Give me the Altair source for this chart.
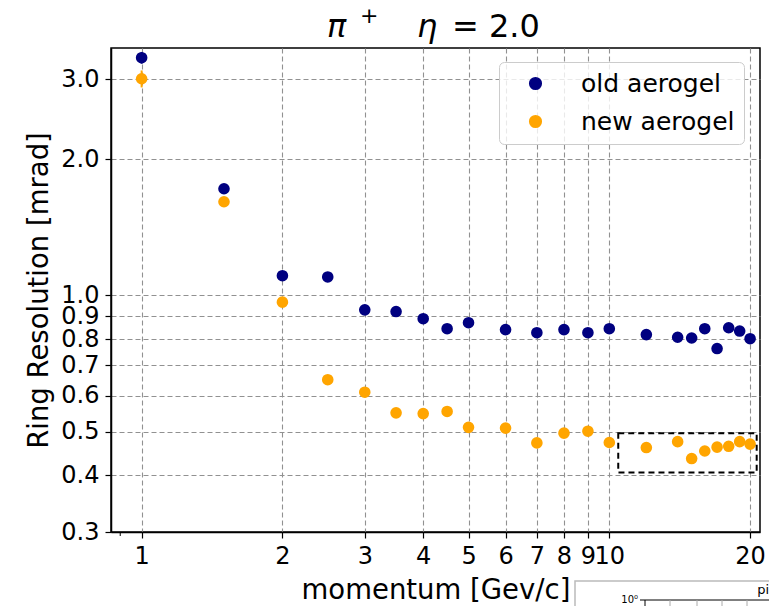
import altair as alt
import pandas as pd

# ---------------- data ----------------
momentum = [1, 1.5, 2, 2.5, 3, 3.5, 4, 4.5, 5, 6, 7, 8, 9, 10,
            12, 14, 15, 16, 17, 18, 19, 20]
old_res = [3.35, 1.72, 1.105, 1.098, 0.929, 0.921, 0.888, 0.844, 0.870,
           0.840, 0.827, 0.840, 0.827, 0.844, 0.819, 0.808, 0.805, 0.844,
           0.763, 0.848, 0.834, 0.802]
new_res = [3.01, 1.61, 0.966, 0.651, 0.611, 0.550, 0.548, 0.554, 0.511,
           0.509, 0.472, 0.496, 0.501, 0.473, 0.461, 0.475, 0.436, 0.453,
           0.462, 0.464, 0.475, 0.469]
old_err = [0.10, 0.03, 0.01, 0.01, 0.01, 0.01, 0.01, 0.01, 0.01, 0.01, 0.01,
           0.01, 0.01, 0.01, 0.01, 0.01, 0.01, 0.01, 0.01, 0.01, 0.01, 0.01]
new_err = [0.13, 0.03, 0.01, 0.01, 0.01, 0.01, 0.01, 0.01, 0.01, 0.01, 0.01,
           0.01, 0.01, 0.01, 0.01, 0.01, 0.01, 0.01, 0.01, 0.01, 0.01, 0.01]
series_names = ["old aerogel", "new aerogel"]
series_colors = ["#000080", "#ffa500"]
x_ticks = [1, 2, 3, 4, 5, 6, 7, 8, 9, 10, 20]
y_ticks = [0.3, 0.4, 0.5, 0.6, 0.7, 0.8, 0.9, 1.0, 2.0, 3.0]
box_x = [10.45, 20.66]
box_y = [0.406, 0.496]

rows = []
for name, vals, errs in [(series_names[0], old_res, old_err),
                         (series_names[1], new_res, new_err)]:
    for m, v, e in zip(momentum, vals, errs):
        rows.append({"momentum": m, "res": v, "lo": v - e, "hi": v + e,
                     "series": name})
df = pd.DataFrame(rows)

FONT = "DejaVu Sans"
W, H = 649, 484

xscale = alt.Scale(type="log", domain=[0.86, 21.0], nice=False)
yscale = alt.Scale(type="log", domain=[0.3, 3.52], nice=False)

xaxis = alt.Axis(values=x_ticks, format="d", title="momentum [Gev/c]",
                 titlePadding=8, labelPadding=6, labelOverlap=False)
yaxis = alt.Axis(values=y_ticks, format=".1f",
                 title="Ring Resolution [mrad]", titlePadding=7,
                 labelPadding=6, labelOverlap=False)

color = alt.Color(
    "series:N",
    scale=alt.Scale(domain=series_names, range=series_colors),
    sort=series_names,
    legend=alt.Legend(
        title=None, orient="none", legendX=388, legendY=14,
        symbolType="circle", symbolSize=135, symbolOpacity=1,
        labelFont=FONT, labelFontSize=25, labelColor="black",
        padding=9, symbolOffset=15, labelOffset=33, rowPadding=12,
        fillColor="rgba(255,255,255,0.8)", strokeColor="#cccccc",
        cornerRadius=5,
    ),
)

base = alt.Chart(df)

errbars = base.mark_rule(strokeWidth=2).encode(
    x=alt.X("momentum:Q", scale=xscale, axis=xaxis),
    y=alt.Y("lo:Q", scale=yscale, axis=yaxis),
    y2="hi:Q",
    color=color,
)

points = base.mark_circle(size=135, opacity=1).encode(
    x=alt.X("momentum:Q", scale=xscale, axis=xaxis),
    y=alt.Y("res:Q", scale=yscale, axis=yaxis),
    color=color,
)

box_df = pd.DataFrame({"x1": [box_x[0]], "x2": [box_x[1]],
                       "y1": [box_y[0]], "y2": [box_y[1]]})
zoom_box = alt.Chart(box_df).mark_rect(
    fillOpacity=0, stroke="black", strokeWidth=2, strokeDash=[6, 4]
).encode(
    x=alt.X("x1:Q", scale=xscale), x2="x2:Q",
    y=alt.Y("y1:Q", scale=yscale), y2="y2:Q",
)

minor_df = pd.DataFrame({"m": [0.9]})
minor_tick = alt.Chart(minor_df).mark_rule(color="black", strokeWidth=1).encode(
    x=alt.X("m:Q", scale=xscale), y=alt.value(H), y2=alt.value(H + 4)
)

one = pd.DataFrame({"k": [0]})


def label(txt, x, y, size, style="normal", align="left", color="black"):
    return alt.Chart(one).mark_text(
        text=txt, font=FONT, fontSize=size, fontStyle=style, align=align,
        baseline="alphabetic", color=color
    ).encode(x=alt.value(x), y=alt.value(y))


def hrule(x1, x2, y, color="black", w=1):
    return alt.Chart(one).mark_rule(color=color, strokeWidth=w).encode(
        x=alt.value(x1), x2=alt.value(x2), y=alt.value(y))


def vrule(x, y1, y2, color="black", w=1):
    return alt.Chart(one).mark_rule(color=color, strokeWidth=w).encode(
        x=alt.value(x), y=alt.value(y1), y2=alt.value(y2))


# title: pi^+   eta = 2.0
title_layers = [
    label("π", 216, -11, 32, "italic"),
    label("+", 249, -25, 22),
    label("η", 306, -11, 32, "italic"),
    label("= 2.0", 341, -11, 32),
]

# clipped fragment of a neighbouring figure at the bottom right
frag_rect = alt.Chart(one).mark_rect(
    fill="white", stroke="#bbbbbb", strokeWidth=1.5
).encode(x=alt.value(464), x2=alt.value(680), y=alt.value(533),
         y2=alt.value(600))
frag_layers = [
    frag_rect,
    hrule(534, 680, 552, "black", 1),
    vrule(534, 552, 600, "black", 1),
    hrule(529, 534, 552, "black", 1),
    label("10⁰", 527, 555, 10, align="right"),
    label("pi", 658, 546, 13, align="right"),
]
for gx in [559, 586, 611, 636]:
    frag_layers.append(vrule(gx, 552, 600, "#aaaaaa", 1))

chart = alt.layer(
    errbars, points, zoom_box, minor_tick, *title_layers, *frag_layers
).properties(
    width=W, height=H,
    autosize=alt.AutoSizeParams(type="none"),
    padding={"left": 111, "top": 48, "right": 9, "bottom": 74},
    background="white",
).configure_view(
    stroke="black", strokeWidth=1.5
).configure_axis(
    grid=True, gridColor="#919191", gridDash=[5, 3], gridWidth=1.1,
    domainColor="black", domainWidth=1.5,
    tickColor="black", tickSize=6, tickWidth=1.2,
    labelFont=FONT, labelFontSize=24, labelColor="black",
    titleFont=FONT, titleFontSize=27.5, titleFontWeight="normal",
    titleColor="black",
)

chart.save("out.html", embed_options={"renderer": "svg", "actions": False})
